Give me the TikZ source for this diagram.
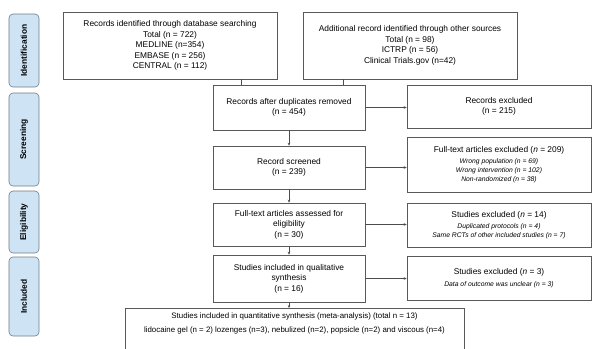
\documentclass[tikz,border=0pt]{standalone}
\usepackage{fontspec}
\setmainfont{Liberation Sans}
\usetikzlibrary{positioning,arrows.meta,calc}
\definecolor{phasefill}{RGB}{206,227,244}
\definecolor{phaseline}{RGB}{110,125,138}
\newcommand{\why}[1]{{\fontsize{6.8}{9}\selectfont\itshape #1}}

\begin{document}
\begin{tikzpicture}[x=1bp,y=-1bp,
    box/.style={draw=black!65, line width=0.6pt, shape=rectangle, align=center, inner sep=1bp,
                font=\fontsize{8.4}{10.5}\selectfont},
    phase/.style={draw=phaseline, fill=phasefill, line width=0.6pt, rounded corners=4bp, rotate=90,
                  minimum height=30bp, inner sep=0pt, font=\fontsize{8.4}{9}\selectfont\bfseries},
    link/.style={draw=black!70, line width=0.6pt},
    arr/.style={link, -{Stealth[length=3bp,width=2.6bp]}}]
  \useasboundingbox (0,0) rectangle (596,348);

  % phases
  \node[phase, minimum width=73bp] (ident) at (24,50.5)  {Identification};
  \node[phase, minimum width=93bp] (scr)   at (24,139.5) {Screening};
  \node[phase, minimum width=62bp] (elig)  at (24,222)   {Eligibility};
  \node[phase, minimum width=79bp] (incl)  at (24,296.5) {Included};

  % identification
  \node[box, minimum width=214bp, minimum height=67bp] (dbsearch) at (170,45.5)
       {Records identified through database searching\\ Total (n = 722)\\ MEDLINE (n=354)\\ EMBASE (n = 256)\\ CENTRAL (n = 112)};
  \node[box, minimum width=214bp, minimum height=67bp] (othersrc) at (410,45.5)
       {Additional record identified through other sources\\ Total (n = 98)\\ ICTRP (n = 56)\\ Clinical Trials.gov (n=42)};

  % screening
  \node[box, minimum width=152bp, minimum height=45bp] (dedup) at (289,107.5)
       {Records after duplicates removed\\ (n = 454)};
  \node[box, minimum width=184bp, minimum height=43bp] (recexcl) at (499,106.5)
       {Records excluded\\ (n = 215)};
  \node[box, minimum width=152bp, minimum height=43bp] (screened) at (289,167.5)
       {Record screened\\ (n = 239)};
  \node[box, minimum width=184bp, minimum height=55bp, font=\fontsize{8.4}{9}\selectfont] (ftexcl) at (499,164.5)
       {Full-text articles excluded (\textit{n} = 209)\\[2.5bp] \why{Wrong population (n = 69)}\\ \why{Wrong intervention (n = 102)}\\ \why{Non-randomized (n = 38)}};

  % eligibility
  \node[box, minimum width=152bp, minimum height=43bp] (assessed) at (289,224.5)
       {Full-text articles assessed for\\ eligibility\\ (n = 30)};
  \node[box, minimum width=184bp, minimum height=44bp, font=\fontsize{8.4}{9}\selectfont] (stexcl) at (499,225)
       {Studies excluded (\textit{n} = 14)\\[2.5bp] \why{Duplicated protocols (n = 4)}\\ \why{Same RCTs of other included studies (n = 7)}};

  % included
  \node[box, minimum width=152bp, minimum height=47bp] (qual) at (289,278.5)
       {Studies included in qualitative\\ synthesis\\ (n = 16)};
  \node[box, minimum width=184bp, minimum height=44bp, font=\fontsize{8.4}{9}\selectfont] (qualexcl) at (499,278)
       {Studies excluded (\textit{n} = 3)\\[2.5bp] \why{Data of outcome was unclear (n = 3)}};
  \node[box, minimum width=339bp, minimum height=46bp, anchor=north, font=\fontsize{7.9}{14}\selectfont] (quant) at (294.5,308)
       {Studies included in quantitative synthesis (meta-analysis) (total n = 13)\\ lidocaine gel (n = 2) lozenges (n=3), nebulized (n=2), popsicle (n=2) and viscous (n=4)\\[4bp]};

  % connectors
  \coordinate (dbfoot) at ([xshift=-36bp]dbsearch.south east);
  \coordinate (osfoot) at ([xshift=41bp]othersrc.south west);
  \draw[link] (dbfoot) -- (dbfoot |- dedup.north);
  \draw[link] (osfoot) -- (osfoot |- dedup.north);
  \draw[arr] (dedup.east) -- (dedup.east -| recexcl.west);
  \draw[arr] (dedup) -- (screened);
  \draw[arr] (screened.east) -- (screened.east -| ftexcl.west);
  \draw[arr] (screened) -- (assessed);
  \draw[arr] (assessed.east) -- (assessed.east -| stexcl.west);
  \draw[arr] (assessed) -- (qual);
  \draw[arr] (qual.east) -- (qual.east -| qualexcl.west);
  \draw[arr] (qual.south) -- (qual.south |- quant.north);
\end{tikzpicture}
\end{document}
